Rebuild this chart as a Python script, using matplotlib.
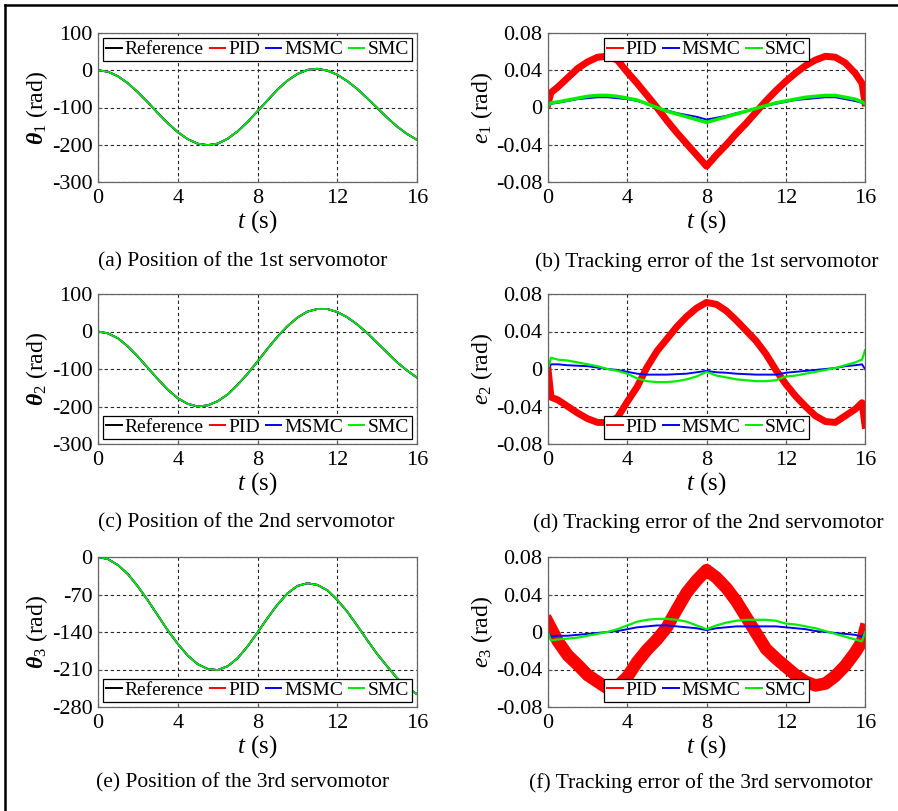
import matplotlib
matplotlib.use("Agg")
import matplotlib.pyplot as plt
from matplotlib.lines import Line2D

plt.rcParams['font.family'] = ['Liberation Serif', 'DejaVu Serif']
plt.rcParams['mathtext.fontset'] = 'custom'
plt.rcParams['mathtext.rm'] = 'Liberation Serif'
plt.rcParams['mathtext.it'] = 'Liberation Serif:italic'
plt.rcParams['mathtext.bf'] = 'Liberation Serif:bold:italic'
plt.rcParams['axes.unicode_minus'] = False

# time samples (s)
t_pos = [0, 0.5, 1, 1.5, 2, 2.5, 3, 3.5, 4, 4.5, 5, 5.5, 6, 6.5, 7, 7.5, 8,
         8.5, 9, 9.5, 10, 10.5, 11, 11.5, 12, 12.5, 13, 13.5, 14, 14.5, 15, 15.5, 16]
t_err = [0, 0.15, 0.5, 1, 1.5, 2, 2.5, 3, 3.5, 4, 4.5, 5, 5.5, 6, 6.5, 7, 7.5, 8,
         8.5, 9, 9.5, 10, 10.5, 11, 11.5, 12, 12.5, 13, 13.5, 14, 14.5, 15, 15.5, 15.85, 16]

# positions (rad) - all controllers lie on top of the reference
theta1 = [0, -4, -16, -35, -59, -86, -115, -142, -166, -185, -197, -201, -197, -184, -164, -139, -110,
          -81, -52, -28, -10, 1, 4, -1, -12, -29, -50, -75, -101, -127, -151, -171, -187]
theta2 = [0, -5, -18, -40, -67, -97, -127, -155, -178, -193, -200, -197, -186, -168, -142, -113, -80,
          -46, -14, 14, 37, 53, 60, 60, 52, 38, 19, -4, -30, -56, -82, -104, -123]
theta3 = [0, -4, -15, -32, -55, -81, -109, -137, -162, -184, -200, -209, -211, -204, -189, -167, -141,
          -114, -89, -68, -54, -49, -52, -62, -80, -102, -128, -155, -181, -204, -226, -244, -256]

# tracking errors (rad)
e1_pid = [0.004, 0.016, 0.022, 0.032, 0.042, 0.049, 0.054, 0.055, 0.051, 0.038, 0.026, 0.013, 0.000,
          -0.014, -0.027, -0.039, -0.051, -0.063, -0.051, -0.040, -0.028, -0.017, -0.005, 0.007, 0.018,
          0.028, 0.037, 0.045, 0.051, 0.055, 0.054, 0.048, 0.037, 0.026, 0.005]
e1_msmc = [0.001, 0.004, 0.005, 0.007, 0.009, 0.010, 0.011, 0.011, 0.010, 0.009, 0.007, 0.004, 0.000,
           -0.003, -0.006, -0.008, -0.010, -0.013, -0.011, -0.009, -0.006, -0.004, -0.001, 0.002, 0.004,
           0.006, 0.008, 0.009, 0.010, 0.011, 0.011, 0.009, 0.007, 0.005, 0.003]
e1_smc = [0.002, 0.005, 0.006, 0.008, 0.010, 0.012, 0.013, 0.013, 0.012, 0.010, 0.008, 0.004, 0.000,
          -0.004, -0.007, -0.010, -0.013, -0.016, -0.013, -0.010, -0.007, -0.004, -0.001, 0.002, 0.005,
          0.007, 0.009, 0.011, 0.012, 0.013, 0.013, 0.011, 0.009, 0.006, 0.004]

e2_pid = [0.000, -0.030, -0.033, -0.040, -0.047, -0.053, -0.057, -0.057, -0.052, -0.035, -0.019, 0.002,
          0.019, 0.032, 0.045, 0.056, 0.065, 0.071, 0.069, 0.062, 0.052, 0.041, 0.030, 0.016, -0.001,
          -0.016, -0.029, -0.040, -0.050, -0.056, -0.057, -0.050, -0.043, -0.036, -0.060]
e2_msmc = [0.000, 0.005, 0.005, 0.004, 0.0035, 0.003, 0.0015, 0.000, -0.001, -0.003, -0.005, -0.006,
           -0.006, -0.006, -0.0055, -0.005, -0.0035, -0.002, -0.0035, -0.004, -0.005, -0.0055, -0.006,
           -0.006, -0.006, -0.004, -0.003, -0.002, -0.001, 0.000, 0.001, 0.003, 0.004, 0.005, 0.000]
e2_smc = [0.000, 0.012, 0.010, 0.009, 0.007, 0.005, 0.003, 0.000, -0.002, -0.005, -0.010, -0.013,
          -0.014, -0.014, -0.013, -0.011, -0.008, -0.003, -0.007, -0.009, -0.011, -0.012, -0.013,
          -0.013, -0.012, -0.008, -0.007, -0.005, -0.003, -0.001, 0.001, 0.004, 0.007, 0.010, 0.020]

e3_pid = [0.010, 0.004, -0.010, -0.025, -0.035, -0.046, -0.053, -0.060, -0.058, -0.048, -0.032, -0.019,
          -0.008, 0.005, 0.024, 0.042, 0.055, 0.066, 0.058, 0.047, 0.033, 0.016, -0.001, -0.018, -0.028,
          -0.037, -0.046, -0.053, -0.057, -0.055, -0.047, -0.036, -0.022, -0.010, 0.002]
e3_msmc = [0.000, -0.005, -0.004, -0.004, -0.003, -0.002, -0.001, 0.000, 0.001, 0.003, 0.005, 0.006,
           0.007, 0.007, 0.006, 0.005, 0.004, 0.002, 0.004, 0.005, 0.006, 0.006, 0.006, 0.006, 0.006,
           0.005, 0.004, 0.003, 0.001, 0.000, -0.001, -0.002, -0.003, -0.005, 0.000]
e3_smc = [0.000, -0.009, -0.008, -0.007, -0.006, -0.004, -0.002, 0.000, 0.003, 0.007, 0.011, 0.013,
          0.014, 0.014, 0.013, 0.011, 0.007, 0.003, 0.007, 0.010, 0.012, 0.013, 0.013, 0.013, 0.012,
          0.009, 0.008, 0.006, 0.004, 0.001, -0.002, -0.005, -0.008, -0.010, 0.000]

pos_labels = ["Reference", "PID", "MSMC", "SMC"]
pos_colors = ["k", "#ff0000", "#0000ff", "#00ee00"]
err_labels = ["PID", "MSMC", "SMC"]
err_colors = ["#ff0000", "#0000ff", "#00ee00"]

pos_yticks = [[100, 0, -100, -200, -300], [100, 0, -100, -200, -300], [0, -70, -140, -210, -280]]
err_yticks = [0.08, 0.04, 0, -0.04, -0.08]
err_ticklabels = ["0.08", "0.04", "0", "-0.04", "-0.08"]

captions_left = ["(a) Position of the 1st servomotor", "(c) Position of the 2nd servomotor",
                 "(e) Position of the 3rd servomotor"]
captions_right = ["(b) Tracking error of the 1st servomotor", "(d) Tracking error of the 2nd servomotor",
                  "(f) Tracking error of the 3rd servomotor"]

W, H = 898, 811
fig = plt.figure(figsize=(W / 100, H / 100), dpi=100)

row_px = [(33, 182), (294, 444), (557, 707)]
caption_y = [262, 523, 783]
caption_x_left = [243, 246, 243]
caption_x_right = [707, 708, 701]


def style_axes(ax):
    ax.set_xlim(0, 16)
    ax.set_xticks([0, 4, 8, 12, 16])
    ax.set_axisbelow(True)
    ax.grid(True, color='0.15', linestyle=(0, (3, 2.5)), linewidth=0.8)
    ax.tick_params(direction='in', length=3, labelsize=16, colors='0.35', labelcolor='k', pad=4)
    ax.tick_params(axis='x', pad=5)
    for s in ax.spines.values():
        s.set_color('0.4')
        s.set_linewidth(0.9)
    ax.set_xlabel("$t$ (s)", fontsize=18, labelpad=0)


def make_legend(ax, loc, ncol):
    leg = ax.legend(loc=loc, ncol=ncol, fontsize=14, handlelength=0.8, handletextpad=0.15,
                    columnspacing=0.3, borderpad=0.15, borderaxespad=0.25, fancybox=False,
                    framealpha=1, edgecolor='k')
    for hl in leg.get_lines():
        hl.set_linewidth(1.4)
    leg.get_frame().set_linewidth(0.9)


thetas = [theta1, theta2, theta3]
errs = [(e1_pid, e1_msmc, e1_smc), (e2_pid, e2_msmc, e2_smc), (e3_pid, e3_msmc, e3_smc)]
pid_width = [5, 5, 9]
smc_width = [2.5, 1.6, 1.6]
pos_leg_loc = ['upper center', 'lower center', 'lower center']
err_leg_loc = ['upper center', 'lower center', 'lower center']

for i in range(3):
    top, bot = row_px[i]
    y0 = 1 - bot / H
    h = (bot - top) / H

    # position panel
    ax = fig.add_axes([98 / W, y0, 319 / W, h])
    for lab, col in zip(pos_labels, pos_colors):
        ax.plot(t_pos, thetas[i], color=col, lw=1.3, label=lab)
    ax.set_yticks(pos_yticks[i])
    ax.set_ylim(min(pos_yticks[i]), max(pos_yticks[i]))
    style_axes(ax)
    ax.set_ylabel(r"$\mathbf{\theta}_{%d}$ (rad)" % (i + 1), fontsize=17, labelpad=1)
    make_legend(ax, pos_leg_loc[i], 4)
    fig.text(caption_x_left[i] / W, 1 - caption_y[i] / H, captions_left[i],
             ha='center', va='center', fontsize=15.5)

    # error panel
    ax = fig.add_axes([548 / W, y0, 317 / W, h])
    pid, msmc, smc = errs[i]
    ax.plot(t_err, pid, color=err_colors[0], lw=pid_width[i], label=err_labels[0])
    ax.plot(t_err, msmc, color=err_colors[1], lw=1.4, label=err_labels[1])
    ax.plot(t_err, smc, color=err_colors[2], lw=smc_width[i], label=err_labels[2])
    ax.set_ylim(-0.08, 0.08)
    ax.set_yticks(err_yticks)
    ax.set_yticklabels(err_ticklabels)
    style_axes(ax)
    ax.set_ylabel("$e_{%d}$ (rad)" % (i + 1), fontsize=17, labelpad=1)
    make_legend(ax, err_leg_loc[i], 3)
    fig.text(caption_x_right[i] / W, 1 - caption_y[i] / H, captions_right[i],
             ha='center', va='center', fontsize=15.5)

# outer frame (top and left edges)
fig.add_artist(Line2D([5 / W, 1], [1 - 5 / H, 1 - 5 / H], color='k', lw=1.8))
fig.add_artist(Line2D([5 / W, 5 / W], [0, 1 - 5 / H], color='k', lw=1.8))

fig.savefig("out.png", dpi=100)
